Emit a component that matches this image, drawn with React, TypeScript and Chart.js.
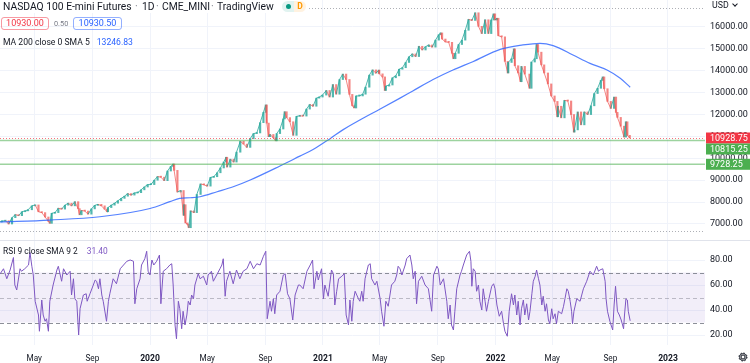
import React, { useEffect, useRef } from 'react';
import { Chart, registerables } from 'chart.js';

Chart.register(...registerables);

// ---------- data ----------
const priceDates = [
  '2019-02-15','2019-02-22','2019-03-01','2019-03-08','2019-03-15','2019-03-22','2019-03-29','2019-04-05','2019-04-12','2019-04-18',
  '2019-04-26','2019-05-03','2019-05-10','2019-05-17','2019-05-24','2019-05-31','2019-06-03','2019-06-07','2019-06-14','2019-06-21',
  '2019-06-28','2019-07-05','2019-07-12','2019-07-19','2019-07-26','2019-08-02','2019-08-05','2019-08-09','2019-08-16','2019-08-23',
  '2019-08-30','2019-09-06','2019-09-13','2019-09-20','2019-09-27','2019-10-02','2019-10-04','2019-10-11','2019-10-18','2019-10-25',
  '2019-11-01','2019-11-08','2019-11-15','2019-11-22','2019-11-29','2019-12-06','2019-12-13','2019-12-20','2019-12-27',
  '2020-01-03','2020-01-10','2020-01-17','2020-01-24','2020-01-31','2020-02-07','2020-02-14','2020-02-19','2020-02-21','2020-02-28',
  '2020-03-06','2020-03-12','2020-03-13','2020-03-16','2020-03-20','2020-03-23','2020-03-27','2020-04-03','2020-04-09','2020-04-17',
  '2020-04-24','2020-05-01','2020-05-08','2020-05-15','2020-05-22','2020-05-29','2020-06-05','2020-06-10','2020-06-12','2020-06-19',
  '2020-06-26','2020-07-02','2020-07-10','2020-07-17','2020-07-24','2020-07-31','2020-08-07','2020-08-14','2020-08-21','2020-08-28',
  '2020-09-02','2020-09-04','2020-09-08','2020-09-11','2020-09-18','2020-09-23','2020-09-25','2020-10-02','2020-10-09','2020-10-12',
  '2020-10-16','2020-10-23','2020-10-30','2020-11-06','2020-11-13','2020-11-20','2020-11-27','2020-12-04','2020-12-11','2020-12-18',
  '2020-12-24','2020-12-31',
  '2021-01-08','2021-01-15','2021-01-22','2021-01-29','2021-02-05','2021-02-12','2021-02-19','2021-02-26','2021-03-04','2021-03-08',
  '2021-03-12','2021-03-19','2021-03-26','2021-04-01','2021-04-09','2021-04-16','2021-04-23','2021-04-29','2021-04-30','2021-05-07',
  '2021-05-12','2021-05-14','2021-05-21','2021-05-28','2021-06-04','2021-06-11','2021-06-18','2021-06-25','2021-07-02','2021-07-09',
  '2021-07-16','2021-07-23','2021-07-30','2021-08-06','2021-08-13','2021-08-20','2021-08-27','2021-09-03','2021-09-07','2021-09-10',
  '2021-09-17','2021-09-24','2021-10-01','2021-10-04','2021-10-08','2021-10-15','2021-10-22','2021-10-29','2021-11-05','2021-11-12',
  '2021-11-19','2021-11-26','2021-12-03','2021-12-10','2021-12-17','2021-12-23','2021-12-28','2021-12-31',
  '2022-01-04','2022-01-07','2022-01-14','2022-01-21','2022-01-27','2022-01-28','2022-02-04','2022-02-09','2022-02-11','2022-02-18',
  '2022-02-23','2022-02-25','2022-03-04','2022-03-14','2022-03-18','2022-03-25','2022-03-29','2022-04-01','2022-04-08','2022-04-14',
  '2022-04-22','2022-04-29','2022-05-06','2022-05-12','2022-05-13','2022-05-20','2022-05-27','2022-06-03','2022-06-10','2022-06-16',
  '2022-06-17','2022-06-24','2022-07-01','2022-07-08','2022-07-15','2022-07-22','2022-07-29','2022-08-05','2022-08-12','2022-08-16',
  '2022-08-19','2022-08-26','2022-09-02','2022-09-09','2022-09-13','2022-09-16','2022-09-23','2022-09-30','2022-10-04','2022-10-07',
  '2022-10-12',
];
const priceCloses = [
  7100,7130,7150,7000,7290,7430,7380,7560,7600,7650,
  7830,7870,7560,7520,7320,7120,7030,7490,7520,7720,
  7680,7860,7950,7830,8020,7700,7420,7620,7590,7450,
  7690,7850,7900,7830,7680,7560,7750,7860,7950,8060,
  8170,8270,8390,8320,8420,8430,8560,8690,8800,
  8800,9000,9170,9140,8980,9420,9630,9740,9450,8460,
  8530,7400,7880,7050,6990,6830,7600,7520,8350,8830,
  8790,8730,9130,9160,9340,9560,9830,10050,9600,9960,
  9830,10280,10780,10650,10500,10900,11130,11160,11630,12100,
  12440,11610,10990,11090,10940,10800,11130,11340,11800,12130,
  11860,11670,11050,11920,11940,11930,12250,12460,12380,12750,
  12800,12890,
  13100,12800,13370,12930,13600,13850,13600,12920,12400,12300,
  12850,12850,12930,13250,13800,14040,13890,14030,13860,13720,
  13100,13300,13350,13680,13770,14070,14140,14380,14640,14770,
  14650,15120,14950,15100,15180,15080,15400,15650,15730,15450,
  15320,15300,14800,14550,14800,15200,15400,15850,16350,16300,
  16650,16030,15700,16330,15700,16320,16600,16320,
  16400,15600,15550,14430,13900,14380,14550,15000,14230,13900,
  13500,14200,13850,13200,14400,14550,15200,14850,14270,13900,
  13400,12850,12600,11900,12380,11850,12650,12620,12000,11200,
  11300,12120,11530,12120,12000,12400,12960,13200,13560,13720,
  13180,12600,12280,12800,12100,11870,11470,10970,11670,11050,
  10928.75,
];

// MA 200 (days counted from 2019-01-01)
const maDays = [48,153,259,365,407,428,450,471,507,541,577,640,682,710,746,773,809,852,894,921,964,1006,1048,1106,1154,1190,1218,1260,1296,1332,1360,1381];
const maValues = [7090,7180,7330,7710,8020,8170,8200,8245,8475,8700,9010,9650,10100,10400,10900,11300,11750,12250,12750,13080,13600,14035,14415,14980,15180,15255,15150,14720,14340,14035,13660,13246.83];

// RSI 9 (days counted from 2019-01-01)
const rsiDays = [
  48,55,62,69,76,79,83,90,93,100,108,111,115,118,122,129,131,136,139,143,
  146,150,153,160,168,171,178,182,189,196,199,203,206,210,214,217,224,230,232,238,
  245,249,252,256,259,263,266,273,277,280,287,294,302,309,316,323,330,333,337,344,
  347,354,358,361,365,369,373,379,385,388,393,400,407,411,414,418,421,425,428,432,
  435,439,443,446,450,453,457,460,467,471,478,485,488,495,499,506,513,517,520,524,
  527,534,541,548,555,562,570,577,584,591,598,605,610,613,619,622,626,629,633,640,
  647,651,656,661,667,672,679,
  682,689,697,704,709,712,718,721,728,732,735,742,749,753,756,760,764,771,776,780,
  785,788,792,795,799,806,809,813,816,820,827,831,834,841,845,852,855,860,864,869,
  876,883,887,890,894,898,905,908,915,919,922,926,929,933,940,947,954,961,965,972,
  975,979,986,993,996,1000,1003,1007,1010,1014,1021,1024,1028,1035,1041,1044,1046,1049,1053,1056,
  1060,1063,1067,1070,1074,1077,1081,1088,1092,1095,1099,1104,1109,1113,1116,1121,1125,1130,1134,1137,
  1141,1144,1148,1151,1155,1158,1162,1166,1169,1173,1176,1180,1183,1187,1190,1194,1197,1201,1204,1208,
  1211,1215,1218,1222,1225,1229,1236,1240,1243,1247,1250,1254,1257,1259,1262,1268,1275,1282,1289,1296,
  1303,1310,1314,
  1317,1323,1328,1330,1333,1338,1344,1347,1350,1354,1358,1362,1367,1369,1372,1375,1377,1381,
];
const rsiValues = [
  69,73,65,72,82,60,56,73,71,73,76,86,75,68,47,36,23,48,36,31,
  33,23,47,60,72,75,63,73,68,71,52,65,49,47,20,41,52,53,47,53,
  60,64,63,57,65,52,47,31,47,53,65,61,73,76,79,80,79,45,57,65,
  76,81,87,71,68,80,76,79,84,45,71,73,76,77,60,28,17,47,41,25,
  39,28,36,47,44,52,49,60,69,65,67,60,68,71,63,68,73,76,81,51,
  63,71,61,72,65,71,73,79,73,77,76,83,87,33,47,39,49,37,52,55,
  68,69,53,49,32,52,60,
  60,57,71,76,80,57,71,64,73,49,60,51,72,69,44,55,65,67,69,36,
  28,48,31,47,55,49,47,55,47,65,76,77,65,60,63,49,39,27,47,43,
  60,63,68,75,73,68,76,81,84,76,65,71,45,63,67,60,57,39,68,75,
  73,60,65,47,33,44,28,24,39,57,68,71,76,84,87,79,59,73,71,55,
  60,47,40,57,47,39,47,59,61,57,44,35,39,29,23,19,39,53,44,52,
  36,47,28,41,48,36,45,32,39,53,63,67,72,65,60,44,51,39,45,32,
  29,41,33,37,29,39,37,43,49,57,55,47,39,29,39,49,47,57,63,71,
  68,75,71,
  72,73,63,49,39,31,24,44,59,39,36,32,25,36,49,48,39,31.4,
];

const timeTickDates = ['2019-05-01','2019-09-01','2020-01-01','2020-05-01','2020-09-01','2021-01-01','2021-05-01','2021-09-01','2022-01-01','2022-05-01','2022-09-01','2023-01-01'];
const timeTickLabels = ['May','Sep','2020','May','Sep','2021','May','Sep','2022','May','Sep','2023'];
const priceTicks = [7000,8000,9000,10000,11000,12000,13000,14000,15000,16000];
const rsiTicks = [20,40,60,80];
const rsiBands = [30,50,70];
const lastPrice = 10928.75;
const levelLines = [10815.25, 9728.25];
const rangeHigh = 16870;
const rangeLow = 6680;
const xRange = [47.6, 1539.3];
const priceRange = [6269, 17233.5];
const rsiRange = [12, 96];

// ---------- helpers ----------
const FONT = 'Roboto, "Liberation Sans", Arial, sans-serif';
const TEXT = '#131722';
const GRID = '#f0f3fa';
const UP = 'rgba(38,166,154,0.8)';
const DOWN = 'rgba(239,83,80,0.7)';
const BASE = Date.UTC(2019, 0, 1);
const dayOf = (s: string) => (Date.parse(s + 'T00:00:00Z') - BASE) / 86400000;
const tickDays = timeTickDates.map(dayOf);

const priceOverlay = {
  id: 'priceOverlay',
  beforeDatasetsDraw(chart: any) {
    const { ctx, chartArea: a, scales } = chart;
    const y = scales.y;
    ctx.save();
    ctx.setLineDash([1, 2]);
    ctx.strokeStyle = 'rgba(120,123,134,0.6)';
    ctx.lineWidth = 1;
    ctx.beginPath();
    for (const v of [rangeHigh, rangeLow]) {
      const py = Math.round(y.getPixelForValue(v)) + 0.5;
      ctx.moveTo(a.left, py);
      ctx.lineTo(a.right, py);
    }
    ctx.stroke();
    ctx.restore();
  },
  afterDatasetsDraw(chart: any) {
    const { ctx, chartArea: a, scales } = chart;
    const y = scales.y;
    ctx.save();
    ctx.strokeStyle = 'rgba(76,175,80,0.55)';
    ctx.lineWidth = 1.5;
    ctx.beginPath();
    for (const v of levelLines) {
      const py = y.getPixelForValue(v);
      ctx.moveTo(a.left, py);
      ctx.lineTo(a.right, py);
    }
    ctx.stroke();
    ctx.setLineDash([1, 2]);
    ctx.lineWidth = 1;
    ctx.strokeStyle = 'rgba(242,54,69,0.7)';
    const pl = Math.round(y.getPixelForValue(lastPrice)) + 0.5;
    ctx.beginPath();
    ctx.moveTo(a.left, pl);
    ctx.lineTo(a.right, pl);
    ctx.stroke();
    ctx.restore();
  },
  afterDraw(chart: any) {
    const { ctx, chartArea: a, scales, width } = chart;
    const y = scales.y;
    const h = 11;
    const items = [
      { v: lastPrice, bg: '#f23645' },
      { v: levelLines[0], bg: '#4caf50' },
      { v: levelLines[1], bg: '#4caf50' },
    ].map((it) => ({ ...it, py: y.getPixelForValue(it.v) }))
      .sort((p, q) => p.py - q.py);
    let prevBottom = -1e9;
    ctx.save();
    ctx.font = `9px ${FONT}`;
    ctx.textBaseline = 'middle';
    ctx.textAlign = 'left';
    for (const it of items) {
      let top = it.py - h / 2;
      if (top < prevBottom) top = prevBottom;
      ctx.fillStyle = it.bg;
      ctx.fillRect(a.right + 1, top, width - a.right - 1, h);
      ctx.fillStyle = '#ffffff';
      ctx.fillText(it.v.toFixed(2), a.right + 5, top + h / 2 + 0.5);
      prevBottom = top + h;
    }
    ctx.restore();
  },
};

const rsiOverlay = {
  id: 'rsiOverlay',
  beforeDatasetsDraw(chart: any) {
    const { ctx, chartArea: a, scales } = chart;
    const y = scales.y;
    const yTop = y.getPixelForValue(rsiBands[2]);
    const yBot = y.getPixelForValue(rsiBands[0]);
    ctx.save();
    ctx.fillStyle = 'rgba(126,87,194,0.1)';
    ctx.fillRect(a.left, yTop, a.right - a.left, yBot - yTop);
    ctx.setLineDash([4, 3]);
    ctx.lineWidth = 1;
    rsiBands.forEach((v, i) => {
      ctx.strokeStyle = i === 1 ? 'rgba(120,123,134,0.45)' : 'rgba(120,123,134,0.85)';
      const py = Math.round(y.getPixelForValue(v)) + 0.5;
      ctx.beginPath();
      ctx.moveTo(a.left, py);
      ctx.lineTo(a.right, py);
      ctx.stroke();
    });
    ctx.restore();
  },
  afterDraw(chart: any) {
    const { ctx, width } = chart;
    ctx.save();
    ctx.strokeStyle = '#e0e3eb';
    ctx.lineWidth = 1;
    ctx.beginPath();
    ctx.moveTo(0, 0.5);
    ctx.lineTo(width, 0.5);
    ctx.stroke();
    ctx.restore();
  },
};

export default function App() {
  const priceRef = useRef<HTMLCanvasElement | null>(null);
  const rsiRef = useRef<HTMLCanvasElement | null>(null);

  useEffect(() => {
    const days = priceDates.map(dayOf);
    const bars = days.slice(1).map((d, i) => ({ x: d, y: [priceCloses[i], priceCloses[i + 1]] }));
    const barColors = days.slice(1).map((_, i) => (priceCloses[i + 1] >= priceCloses[i] ? UP : DOWN));
    const closes = days.map((d, i) => ({ x: d, y: priceCloses[i] }));
    const ma = maDays.map((d, i) => ({ x: d, y: maValues[i] }));
    const rsi = rsiDays.map((d, i) => ({ x: d, y: rsiValues[i] }));

    const xCommon = {
      type: 'linear',
      min: xRange[0],
      max: xRange[1],
      offset: false,
      afterBuildTicks: (s: any) => { s.ticks = tickDays.map((v) => ({ value: v })); },
      grid: { color: GRID, drawTicks: false, offset: false },
      border: { display: false },
    };

    const c1 = new Chart(priceRef.current as HTMLCanvasElement, {
      type: 'line',
      data: {
        datasets: [
          {
            type: 'bar',
            data: bars as any,
            backgroundColor: barColors,
            borderWidth: 0,
            barThickness: 1.5,
            minBarLength: 1,
            grouped: false,
            order: 3,
          } as any,
          {
            type: 'line',
            data: closes,
            borderWidth: 1,
            pointRadius: 0,
            tension: 0,
            segment: {
              borderColor: (c: any) => (c.p1.parsed.y >= c.p0.parsed.y ? UP : DOWN),
            },
            order: 2,
          } as any,
          {
            type: 'line',
            data: ma,
            borderColor: 'rgba(41,98,255,0.8)',
            borderWidth: 1.2,
            pointRadius: 0,
            cubicInterpolationMode: 'monotone',
            order: 1,
          } as any,
        ],
      },
      options: {
        responsive: false,
        animation: false,
        events: [],
        layout: { padding: 0 },
        plugins: { legend: { display: false }, tooltip: { enabled: false } },
        scales: {
          x: {
            ...xCommon,
            ticks: { display: false },
            afterFit: (s: any) => { s.height = 0; s.paddingLeft = 0; s.paddingRight = 0; },
          } as any,
          y: {
            type: 'linear',
            position: 'right',
            min: priceRange[0],
            max: priceRange[1],
            afterBuildTicks: (s: any) => { s.ticks = priceTicks.map((v) => ({ value: v })); },
            afterFit: (s: any) => { s.width = 45; s.paddingTop = 0; s.paddingBottom = 0; },
            ticks: {
              autoSkip: false,
              padding: 5,
              color: TEXT,
              font: { family: FONT, size: 9 },
              callback: (v: any) => Number(v).toFixed(2),
            },
            grid: { color: GRID, drawTicks: false },
            border: { display: false },
          } as any,
        },
      },
      plugins: [priceOverlay],
    } as any);

    const c2 = new Chart(rsiRef.current as HTMLCanvasElement, {
      type: 'line',
      data: {
        datasets: [
          {
            data: rsi,
            borderColor: '#7e57c2',
            borderWidth: 1,
            pointRadius: 0,
            tension: 0,
          } as any,
        ],
      },
      options: {
        responsive: false,
        animation: false,
        events: [],
        layout: { padding: 0 },
        plugins: { legend: { display: false }, tooltip: { enabled: false } },
        scales: {
          x: {
            ...xCommon,
            position: 'bottom',
            afterFit: (s: any) => { s.height = 18; s.paddingLeft = 0; s.paddingRight = 0; },
            ticks: {
              autoSkip: false,
              maxRotation: 0,
              padding: 9,
              color: TEXT,
              callback: (_v: any, i: number) => timeTickLabels[i],
              font: (c: any) => (/^\d{4}$/.test(timeTickLabels[c.index] || '')
                ? { family: FONT, size: 8.6, weight: 'bold' }
                : { family: FONT, size: 8.2 }),
            },
          } as any,
          y: {
            type: 'linear',
            position: 'right',
            min: rsiRange[0],
            max: rsiRange[1],
            afterBuildTicks: (s: any) => { s.ticks = rsiTicks.map((v) => ({ value: v })); },
            afterFit: (s: any) => { s.width = 45; s.paddingTop = 0; s.paddingBottom = 0; },
            ticks: {
              autoSkip: false,
              padding: 5,
              color: TEXT,
              font: { family: FONT, size: 9 },
              callback: (v: any) => Number(v).toFixed(2),
            },
            grid: { color: GRID, drawTicks: false },
            border: { display: false },
          } as any,
        },
      },
      plugins: [rsiOverlay],
    } as any);

    return () => {
      c1.destroy();
      c2.destroy();
    };
  }, []);

  const abs = (o: any) => ({ position: 'absolute', whiteSpace: 'nowrap', ...o });

  return (
    <div style={{ position: 'absolute', left: 0, top: 0, width: 750, height: 363, background: '#ffffff', overflow: 'hidden', fontFamily: FONT, color: TEXT }}>
      <canvas ref={priceRef} width={750} height={240} style={{ position: 'absolute', left: 0, top: 0 }} />
      <canvas ref={rsiRef} width={750} height={123} style={{ position: 'absolute', left: 0, top: 240 }} />

      {/* title row */}
      <div style={abs({ left: 0, top: 0, width: 307, height: 13, background: '#ffffff' })} />
      <div style={abs({ left: 3, top: 0, fontSize: 10.3, lineHeight: '13px' })}>NASDAQ 100 E-mini Futures</div>
      <div style={abs({ left: 135, top: 0, fontSize: 10.3, lineHeight: '13px', color: '#787b86' })}>·</div>
      <div style={abs({ left: 142, top: 0, fontSize: 10.3, lineHeight: '13px' })}>1D</div>
      <div style={abs({ left: 156, top: 0, fontSize: 10.3, lineHeight: '13px', color: '#787b86' })}>·</div>
      <div style={abs({ left: 162, top: 0, fontSize: 10.3, lineHeight: '13px' })}>CME_MINI</div>
      <div style={abs({ left: 211, top: 0, fontSize: 10.3, lineHeight: '13px', color: '#787b86' })}>·</div>
      <div style={abs({ left: 217, top: 0, fontSize: 10.3, lineHeight: '13px' })}>TradingView</div>
      <div style={abs({ left: 282, top: 1, width: 12, height: 11, background: 'rgba(8,153,129,0.12)', borderRadius: '6px 0 0 6px' })}>
        <div style={abs({ left: 4, top: 3, width: 5, height: 5, borderRadius: 3, background: '#089981' })} />
      </div>
      <div style={abs({ left: 294, top: 1, width: 12, height: 11, background: 'rgba(255,152,0,0.12)', borderRadius: '0 6px 6px 0', color: '#ff9800', fontSize: 8.5, fontWeight: 'bold', lineHeight: '11px', textAlign: 'center' })}>D</div>

      {/* price row */}
      <div style={abs({ left: 1, top: 17, width: 46, height: 11, border: '1px solid rgba(242,54,69,0.5)', borderRadius: 3, color: '#f23645', fontSize: 9, lineHeight: '11px', textAlign: 'center' })}>10930.00</div>
      <div style={abs({ left: 54, top: 17, height: 13, color: '#787b86', fontSize: 7.3, lineHeight: '13px' })}>0.50</div>
      <div style={abs({ left: 73, top: 17, width: 47, height: 11, border: '1px solid rgba(41,98,255,0.5)', borderRadius: 3, color: '#2962ff', fontSize: 9, lineHeight: '11px', textAlign: 'center' })}>10930.50</div>

      {/* MA legend */}
      <div style={abs({ left: 3, top: 36, fontSize: 8.6, lineHeight: '12px' })}>
        MA 200 close 0 SMA 5<span style={{ color: '#2962ff', marginLeft: 7 }}>13246.83</span>
      </div>

      {/* RSI legend */}
      <div style={abs({ left: 3, top: 244.5, fontSize: 8.4, lineHeight: '12px' })}>
        RSI 9 close SMA 9 2<span style={{ color: '#7e57c2', marginLeft: 9 }}>31.40</span>
      </div>

      {/* currency */}
      <div style={abs({ left: 712, top: 0, fontSize: 8.8, lineHeight: '10px' })}>USD</div>
      <div style={abs({ left: 733, top: 2, width: 3, height: 3, borderRight: '1px solid #131722', borderBottom: '1px solid #131722', transform: 'rotate(45deg)' })} />

      {/* settings gear */}
      <svg style={abs({ left: 737, top: 351 })} width="12" height="12" viewBox="0 0 12 12">
        <circle cx="6" cy="6" r="2" fill="none" stroke="#131722" strokeWidth="1" />
        <circle cx="6" cy="6" r="4" fill="none" stroke="#131722" strokeWidth="1" strokeDasharray="1.6 1.54" />
        <circle cx="6" cy="6" r="3.4" fill="none" stroke="#131722" strokeWidth="0.9" />
      </svg>
    </div>
  );
}
